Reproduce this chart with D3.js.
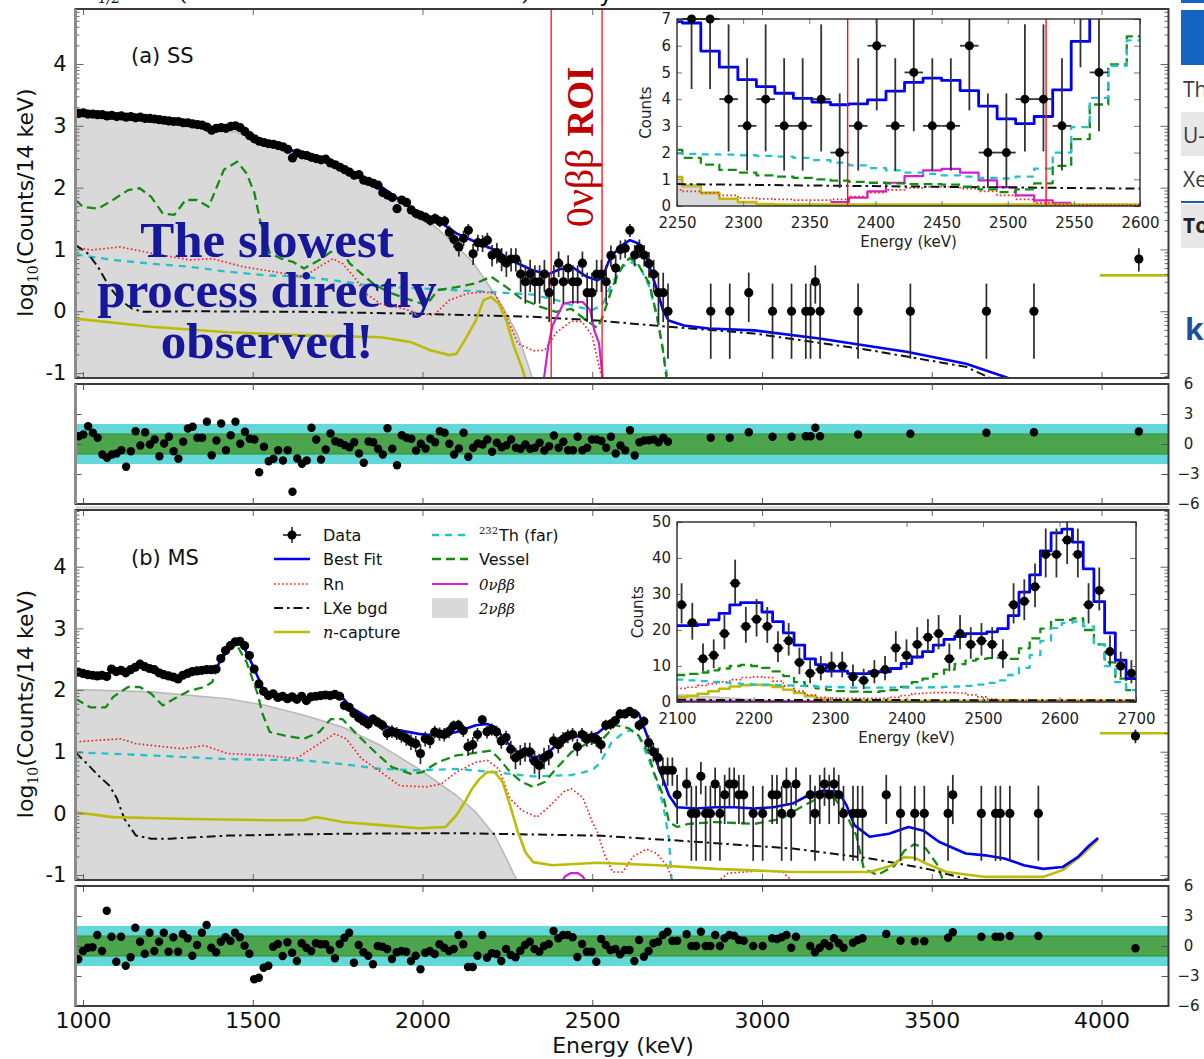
<!DOCTYPE html>
<html lang="en">
<head>
<meta charset="utf-8">
<title>Single-site and multi-site energy spectra</title>
<script src="https://cdn.jsdelivr.net/npm/d3@7"></script>
<style>
  html, body { margin: 0; padding: 0; background: #fff; }
  svg { display: block; font-family: "DejaVu Sans", sans-serif; }
</style>
</head>
<body>
<svg id="fig" width="1204" height="1059"></svg>
<script>
// ---------------------------------------------------------------------------
// Binning: 14 keV bins, values given at bin centres
// ---------------------------------------------------------------------------
const BIN = 14;
const SS_START = 987;   // centre of first single-site bin (keV)
const MS_START = 986;   // centre of first multi-site bin (keV)

// ---- (a) single-site data -------------------------------------------------
// log10(counts / 14 keV), bins 987 .. 2247 keV
const ssLogLow = [
  3.20,3.21,3.19,3.19,3.18,3.18,3.16,3.17,3.15,3.16,
  3.14,3.15,3.13,3.14,3.12,3.12,3.11,3.10,3.09,3.08,
  3.07,3.07,3.05,3.05,3.03,3.02,3.01,2.98,2.93,2.96,
  2.97,2.96,2.99,3.00,2.97,2.91,2.84,2.79,2.75,2.73,
  2.71,2.70,2.68,2.66,2.62,2.48,2.56,2.53,2.52,2.49,
  2.47,2.45,2.46,2.40,2.37,2.33,2.29,2.25,2.20,2.21,
  2.12,2.10,2.07,2.04,1.92,1.88,1.84,1.66,1.80,1.76,
  1.64,1.58,1.55,1.52,1.47,1.50,1.45,1.46,1.28,1.16,
  1.04,1.18,1.31,0.93,1.11,1.10,1.15,0.91,0.95,0.85,0.78
];
// counts per bin, bins 2261 .. 2569 keV (also shown in the zoomed inset)
const ssInsetCounts = [7,7,4,3,4,3,3,4,2,3,6,3,5,3,3,6,2,2,4,4,3,8,5];
// log10(counts), bins 2583 .. 2723 keV
const ssLogHigh = [1.00,1.02,1.31,0.91,1.02,0.91,0.77,0.60,0.30,0.30,0.00];
// normalised residuals for the bins above (987 .. 2723 keV)
const ssResid = [
  0.78,0.95,1.78,1.12,0.62,-1.05,-1.38,-1.05,-0.95,-0.62,
  -2.28,-0.72,1.28,-0.15,1.18,-0.05,0.45,-1.22,0.05,0.72,
  -0.72,-1.48,0.22,1.55,1.72,0.62,0.62,2.22,-1.12,0.35,
  2.05,-0.62,0.88,2.22,0.02,1.22,0.52,0.45,-2.82,-0.28,
  -1.72,-1.48,-0.62,-1.65,-0.62,-4.78,-1.45,-1.98,-1.65,1.62,
  0.45,-1.55,-0.55,1.05,0.28,0.12,-0.12,-0.32,0.18,-0.95,
  -1.88,0.25,0.18,-0.48,-1.05,1.58,-0.48,-2.12,0.88,0.62,
  0.52,-0.65,0.02,-0.45,0.52,0.18,1.28,1.12,0.02,-1.05,
  -0.45,1.12,-1.28,-0.38,0.05,-0.05,0.45,-0.78,0.12,-0.32,
  -0.12,0.45,-0.38,-0.48,-0.05,-0.48,-0.38,0.12,-0.65,-0.22,
  0.85,-0.38,0.22,-0.62,-0.62,0.72,-0.62,-0.38,0.45,0.45,0.30,
  -0.38,0.72,-0.95,-0.15,-0.62,1.38,-1.15,0.18,0.35,0.38,0.45,0.18,0.62,0.22
];
// sparse high-energy bins
const ssTailE = [2849,2905,2961,3031,3087,3129,3143,3157,3171,3283,3437,3661,3801];
const ssTailN = [1,1,2,1,1,1,1,3,1,1,1,1,1];
const ssTailResid = [0.62,0.62,1.18,0.72,0.72,0.78,0.78,1.62,0.78,0.95,1.02,1.12,1.18];
// overflow bin (everything above the plotted range)
const ssOverE = 4110, ssOverN = 7, ssOverResid = 1.25, ssOverModel = 0.58;

// ---- (a) single-site model components, [energy keV, log10 counts] ---------
const ssTwoNu = [[978,3.16],[1100,3.12],[1200,3.08],[1300,3.01],[1386,2.93],[1450,2.90],[1500,2.78],[1600,2.60],[1700,2.43],[1800,2.22],[1900,1.93],[2000,1.55],[2100,1.06],[2150,0.78],[2200,0.38],[2240,0.04],[2280,-0.38],[2310,-0.85],[2330,-1.2]];
const ssFit = [[978,3.19],[1100,3.15],[1200,3.11],[1300,3.04],[1380,2.96],[1430,2.97],[1460,2.99],[1490,2.86],[1520,2.76],[1600,2.63],[1700,2.46],[1800,2.22],[1877,2.02],[1989,1.58],[2050,1.45],[2100,1.26],[2157,1.12],[2213,0.99],[2270,0.80],[2326,0.66],[2371,0.60],[2404,0.68],[2440,0.72],[2483,0.56],[2515,0.50],[2530,0.55],[2554,0.88],[2588,1.07],[2611,1.15],[2634,1.10],[2662,0.83],[2691,0.34],[2708,0.02],[2725,-0.15],[2770,-0.23],[2843,-0.28],[2977,-0.31],[3169,-0.44],[3430,-0.66],[3601,-0.85],[3725,-1.08]];
const ssVessel = [[978,1.80],[1000,1.69],[1044,1.66],[1088,1.80],[1133,1.96],[1167,1.99],[1201,1.85],[1235,1.58],[1269,1.56],[1302,1.80],[1336,1.80],[1370,1.69],[1415,2.29],[1454,2.42],[1482,2.23],[1505,1.91],[1521,1.48],[1550,0.94],[1584,0.85],[1618,0.80],[1651,0.69],[1696,0.83],[1730,0.96],[1764,0.96],[1786,0.77],[1820,0.61],[1854,0.45],[1899,0.31],[1966,0.18],[2011,0.10],[2045,0.34],[2100,0.39],[2157,0.45],[2202,0.56],[2247,0.39],[2292,0.20],[2348,0.07],[2393,-0.01],[2438,0.04],[2483,-0.15],[2515,-0.27],[2530,-0.10],[2545,0.15],[2560,0.40],[2575,0.58],[2590,0.74],[2610,0.86],[2634,0.77],[2668,0.45],[2691,-0.09],[2708,-0.63],[2719,-1.1]];
const ssTh = [[978,0.92],[1088,0.83],[1201,0.77],[1313,0.72],[1426,0.64],[1539,0.58],[1651,0.56],[1764,0.48],[1877,0.39],[1989,0.37],[2100,0.34],[2213,0.31],[2326,0.27],[2400,0.17],[2450,0.08],[2500,0.02],[2530,0.10],[2545,0.30],[2560,0.47],[2575,0.60],[2590,0.72],[2612,0.80],[2640,0.72],[2668,0.40],[2691,-0.10],[2708,-0.60],[2722,-1.1]];
const ssRn = [[978,1.04],[1023,0.99],[1110,1.04],[1201,0.94],[1313,0.83],[1381,0.85],[1471,0.72],[1561,0.64],[1651,0.56],[1696,0.72],[1736,0.85],[1764,0.77],[1798,0.56],[1832,0.29],[1877,0.12],[1944,0.04],[1989,-0.04],[2034,-0.06],[2079,0.18],[2135,0.29],[2180,0.31],[2213,0.29],[2247,-0.09],[2281,-0.52],[2326,-0.64],[2360,-0.63],[2393,-0.35],[2438,-0.16],[2470,-0.17],[2500,-0.40],[2520,-0.90],[2535,-1.2]];
const ssLXe = [[978,1.07],[1013,0.94],[1044,0.72],[1078,0.39],[1110,0.18],[1145,0.04],[1178,-0.01],[1313,0.00],[1651,-0.01],[1989,-0.04],[2326,-0.09],[2515,-0.15],[2722,-0.25],[2977,-0.36],[3318,-0.63],[3601,-0.90],[3680,-1.1]];
const ssNcap = [[978,-0.12],[1201,-0.25],[1426,-0.34],[1651,-0.39],[1877,-0.42],[1966,-0.50],[2023,-0.63],[2079,-0.71],[2100,-0.69],[2124,-0.47],[2157,-0.15],[2180,0.18],[2202,0.23],[2225,0.12],[2247,-0.15],[2270,-0.58],[2292,-0.90],[2309,-1.2]];
const ssZeroNu = [[2355,-1.2],[2370,-0.58],[2383,-0.23],[2415,0.12],[2438,0.15],[2472,0.15],[2494,0.02],[2506,-0.31],[2520,-0.52],[2531,-1.1]];

// ---- (b) multi-site data --------------------------------------------------
// log10(counts / 14 keV), bins 986 .. 2092 keV
const msLogLow = [
  2.29,2.27,2.25,2.24,2.23,2.24,2.22,2.34,2.30,2.32,
  2.28,2.33,2.37,2.42,2.38,2.35,2.33,2.28,2.25,2.23,
  2.21,2.18,2.24,2.27,2.30,2.31,2.32,2.33,2.33,2.34,
  2.51,2.64,2.72,2.78,2.79,2.72,2.56,2.34,2.10,1.98,
  1.91,1.94,1.88,1.90,1.86,1.89,1.85,1.90,1.83,1.89,
  1.90,1.91,1.92,1.91,1.93,1.90,1.75,1.72,1.62,1.55,
  1.50,1.45,1.53,1.48,1.43,1.30,1.33,1.30,1.26,1.22,
  1.16,1.13,0.97,1.21,1.18,1.32,1.29,1.28,1.33,1.42
];
// counts per bin, bins 2106 .. 2694 keV (also shown in the zoomed inset)
const msInsetCounts = [27,22,12,13,19,33,21,23,21,15,17,11,8,9,10,10,7,6,8,9,15,13,16,18,19,12,19,16,17,16,13,27,28,32,41,41,45,41,27,31,14,10,8];
// counts, bins 2708 .. 2736 keV
const msLateCounts = [5,5,5];
const msResid = [
  -1.33,-0.5,-0.17,-0.13,1.1,-0.5,3.53,0.93,-1.57,0.93,
  -1.97,-1.13,1.83,0.43,-0.77,1.33,-0.5,0.43,1.33,-0.57,
  0.87,-0.57,1.2,0.77,-0.97,0.1,1.33,2.1,-0.17,-0.63,
  0.43,0.87,0.5,1.33,0.87,0.03,-0.77,-3.33,-3.17,-2.17,
  -1.97,-0.07,0.2,-1.0,0.37,-0.67,-1.5,0.27,-0.17,-0.5,
  0.27,0.17,0.17,-0.4,-1.23,0.2,0.83,1.33,-1.67,0.1,
  -0.63,-0.97,-1.83,0.0,-0.07,-0.3,-1.3,-0.63,-0.5,-0.57,
  -1.5,-0.97,-2.33,-0.67,-0.5,-0.8,0.17,-0.17,-0.5,-0.3,
  1.1,0.17,-2.1,-2.1,-0.97,1.1,-1.17,-0.73,-0.8,-1.5,
  -0.3,-0.9,-1.13,-0.47,0.1,0.43,-0.3,-0.57,0.0,0.2,
  1.5,0.77,1.1,1.1,0.87,-1.1,0.2,-0.57,-0.57,-1.57,
  0.7,0.1,-0.4,-0.3,-0.83,-0.4,-0.4,-1.5,0.6,-1.07,-0.5,0.27,0.43,1.1,1.43,0.5
];
const msTailE = [2750,2778,2792,2806,2820,2834,2848,2862,2876,2890,2904,2918,2932,2946,2974,3002,3030,3044,3058,3072,3086,3100,3142,3156,3170,3184,3198,3212,3226,3240,3268,3282,3296,3366,3408,3450,3478,3548,3562,3646,3688,3702,3730,3814];
const msTailN = [2,3,1,1,4,1,1,3,1,2,3,3,2,2,1,1,2,2,1,3,1,3,2,1,2,3,2,3,2,1,1,1,1,2,1,1,1,1,2,1,1,1,1,1];
const msTailResid = [0.53,1.17,0.0,0.0,1.43,0.0,0.0,1.1,0.0,0.77,1.1,1.03,0.6,0.53,0.0,0.0,0.77,0.7,0.87,1.1,-0.17,0.93,0.0,-0.63,-0.17,0.27,0.0,0.77,0.27,-0.17,0.33,0.6,0.77,1.2,0.53,0.47,0.47,0.83,1.37,0.93,0.93,0.93,1.0,1.0];
const msOverE = 4100, msOverN = 18, msOverResid = -0.23, msOverModel = 1.30;

// ---- (b) multi-site model components --------------------------------------
const msTwoNu = [[978,2.01],[1201,1.97],[1426,1.86],[1539,1.75],[1651,1.59],[1764,1.40],[1877,1.10],[1989,0.72],[2100,0.29],[2157,0.02],[2213,-0.36],[2247,-0.73],[2270,-1.0],[2290,-1.2]];
const msFit = [[978,2.28],[1050,2.24],[1100,2.31],[1168,2.39],[1250,2.24],[1290,2.21],[1330,2.29],[1390,2.34],[1420,2.60],[1450,2.77],[1470,2.74],[1500,2.40],[1530,2.02],[1560,1.92],[1650,1.88],[1720,1.91],[1760,1.90],[1790,1.72],[1840,1.55],[1880,1.45],[1910,1.37],[1989,1.29],[2045,1.26],[2100,1.32],[2157,1.43],[2191,1.45],[2213,1.40],[2247,1.16],[2281,0.99],[2326,0.91],[2360,0.94],[2393,1.10],[2438,1.24],[2483,1.26],[2515,1.30],[2557,1.48],[2591,1.64],[2614,1.69],[2637,1.62],[2665,1.21],[2681,0.97],[2704,0.62],[2726,0.29],[2750,0.10],[2806,0.08],[2863,0.10],[2920,0.10],[2977,0.08],[3033,0.10],[3090,0.16],[3135,0.29],[3181,0.37],[3226,0.35],[3249,0.13],[3272,-0.19],[3317,-0.38],[3374,-0.33],[3431,-0.22],[3476,-0.28],[3521,-0.46],[3600,-0.65],[3657,-0.68],[3714,-0.73],[3771,-0.84],[3828,-0.90],[3885,-0.87],[3930,-0.71],[3964,-0.52],[3990,-0.40]];
const msVessel = [[978,1.86],[1021,1.72],[1067,1.72],[1089,1.89],[1133,2.05],[1167,2.05],[1201,1.94],[1235,1.75],[1269,1.86],[1313,1.99],[1358,2.05],[1381,2.13],[1404,2.53],[1437,2.72],[1454,2.72],[1482,2.45],[1516,1.91],[1527,1.64],[1550,1.32],[1595,1.26],[1651,1.21],[1696,1.32],[1730,1.53],[1764,1.53],[1786,1.40],[1820,1.21],[1865,0.97],[1910,0.75],[1966,0.64],[2000,0.67],[2045,0.83],[2100,0.94],[2168,0.99],[2202,1.02],[2225,0.89],[2258,0.67],[2292,0.51],[2326,0.43],[2360,0.51],[2393,0.72],[2438,0.99],[2483,1.13],[2523,1.16],[2568,1.43],[2608,1.38],[2637,1.26],[2665,0.99],[2681,0.67],[2709,0.29],[2726,-0.14],[2750,-0.22],[2783,-0.17],[2863,-0.14],[2977,-0.17],[3056,-0.09],[3124,0.13],[3181,0.29],[3215,0.24],[3249,-0.03],[3278,-0.36],[3300,-0.90],[3340,-1.0],[3390,-0.85],[3420,-0.60],[3449,-0.50],[3483,-0.57],[3517,-0.84],[3540,-1.2]];
const msTh = [[978,0.99],[1201,0.94],[1426,0.88],[1651,0.86],[1764,0.80],[1877,0.72],[1989,0.70],[2100,0.72],[2213,0.67],[2326,0.60],[2438,0.62],[2500,0.70],[2523,0.82],[2557,1.15],[2590,1.30],[2612,1.35],[2637,1.25],[2665,0.90],[2691,0.51],[2709,0.13],[2726,-0.41],[2735,-1.2]];
const msRn = [[978,1.16],[1110,1.21],[1156,1.13],[1291,1.05],[1358,1.10],[1426,0.97],[1539,0.94],[1628,0.89],[1673,1.05],[1741,1.29],[1775,1.21],[1820,0.89],[1877,0.67],[1933,0.45],[2011,0.43],[2056,0.48],[2100,0.67],[2157,0.83],[2191,0.86],[2225,0.72],[2258,0.24],[2292,0.05],[2337,-0.06],[2371,0.10],[2416,0.35],[2438,0.40],[2472,0.26],[2500,-0.14],[2515,-0.30],[2535,-0.65],[2560,-0.95],[2590,-0.95],[2620,-0.70],[2660,-0.58],[2690,-0.65],[2720,-0.85],[2740,-1.15]];
const msRnHigh = [[2860,-1.15],[2900,-0.97],[3000,-0.93],[3060,-0.95],[3100,-1.15]];
const msLXe = [[978,0.99],[1013,0.80],[1044,0.62],[1078,0.45],[1100,0.24],[1122,-0.09],[1156,-0.36],[1201,-0.41],[1257,-0.41],[1426,-0.36],[1764,-0.33],[2100,-0.32],[2515,-0.36],[2750,-0.44],[3090,-0.57],[3317,-0.73],[3487,-0.90],[3600,-1.06],[3650,-1.15]];
const msNcap = [[978,0.02],[1088,-0.06],[1313,-0.09],[1539,-0.11],[1651,-0.11],[1685,-0.06],[1719,-0.09],[1764,-0.14],[1877,-0.19],[1989,-0.24],[2068,-0.22],[2100,-0.03],[2124,0.18],[2146,0.40],[2168,0.56],[2191,0.67],[2213,0.67],[2236,0.51],[2258,0.13],[2281,-0.30],[2303,-0.63],[2326,-0.79],[2382,-0.84],[2515,-0.80],[2692,-0.84],[2863,-0.90],[3090,-0.95],[3317,-0.95],[3380,-0.85],[3419,-0.71],[3450,-0.72],[3487,-0.82],[3544,-0.95],[3658,-1.03],[3828,-1.03],[3885,-0.92],[3942,-0.68],[3990,-0.42]];
const msZeroNu = [[2400,-1.2],[2420,-1.02],[2436,-0.97],[2458,-0.97],[2472,-1.02],[2490,-1.2]];

// ---- 0νββ region of interest (keV) ----------------------------------------
const roiE = [2379, 2529];

// ---- inset (a): counts per 14 keV bin, bins with left edges from 2240 keV ---
const ssInEdge = 2240;
const ssInFit    = [6.9,6.85,5.8,5.2,4.73,4.47,4.22,4.03,3.89,3.79,3.82,3.97,4.3,4.63,4.79,4.7,4.32,3.74,3.26,3.08,3.35,4.35,6.16,8,9,10];
const ssInTh     = [1.97,1.95,1.93,1.92,1.9,1.88,1.85,1.8,1.72,1.62,1.52,1.42,1.33,1.25,1.2,1.15,1.1,1.05,1.03,1.1,1.4,2.0,2.95,4.05,5.25,6.2];
const ssInVessel = [2.1,1.8,1.55,1.35,1.25,1.15,1.1,1.05,1.0,0.95,0.9,0.87,0.85,0.82,0.82,0.8,0.72,0.62,0.52,0.62,0.85,1.5,2.5,3.8,5.3,6.35];
const ssInRn     = [0.6,0.55,0.5,0.4,0.3,0.27,0.25,0.22,0.22,0.25,0.35,0.5,0.6,0.68,0.72,0.72,0.65,0.55,0.4,0.25,0.12,0.06,0.04,0.03,0.03,0.03];
const ssInNcap   = [1.08,0.77,0.49,0.27,0.15,0.07,0.05,0.05,0.05,0.05,0.05,0.05,0.05,0.05,0.05,0.05,0.05,0.05,0.05,0.05,0.05,0.05,0.05,0.05,0.05,0.05];
const ssInTwoNu  = [0.9,0.7,0.45,0.25,0.12,0.06,0.03,0.02,0.01,0,0,0,0,0,0,0,0,0,0,0,0,0,0,0,0,0];
const ssInZeroEdge = 2366;
const ssInZeroNu = [0.15,0.31,0.55,0.87,1.12,1.33,1.39,1.25,0.96,0.71,0.4,0.21,0.12];
const ssInLXe = [[2250,0.82],[2425,0.73],[2600,0.65]];
const ssInCentre = 2261;

// ---- inset (b): counts per 14 keV bin, bins with left edges from 2099 keV ---
const msInEdge = 2099;
const msInFit    = [21.2,21.2,21.5,22.8,24.6,27,27.6,27.6,25,22.3,19.2,15.8,12,10.4,8.6,8.6,7.9,7.9,8.4,8.4,9.3,10.7,12.5,14,15.8,17.4,18.2,19,19,19.5,20.4,24,30.5,35.3,42,47,48,44.4,37,27.9,19.2,11.6,6.5];
const msInVessel = [7.5,7.8,8.2,8.8,9.3,10,10.3,10,9.5,8.5,7.2,5.5,4.5,3.8,3.3,3,2.9,2.8,2.8,3,3.3,4.2,5.5,6.5,7.8,9,10.5,11.5,12,12.2,12.3,12,14.9,17.7,20.4,22.8,22.8,23.2,20,16,11,6.5,3.3];
const msInTh     = [6.2,6.0,5.8,5.6,5.4,5.2,5.0,4.9,4.8,4.7,4.6,4.5,4.4,4.3,4.2,4.1,4.0,4.0,4.0,4.0,4.0,4.0,4.0,4.1,4.1,4.2,4.3,4.5,4.8,5.3,6.0,7.5,9.5,13,17,20.5,22,22.3,21,16,10,5.5,3.3];
const msInRn     = [3.8,4.1,4.6,5.1,5.6,6.2,6.8,7.0,6.8,5.8,4.5,3.0,2.0,1.3,1.1,1.0,1.0,1.0,1.0,1.0,1.3,1.8,2.3,2.5,2.6,2.6,2.5,2.0,1.4,0.8,0.5,0.4,0.4,0.4,0.4,0.4,0.4,0.4,0.4,0.4,0.4,0.4,0.4];
const msInNcap   = [1.4,1.7,2.3,3.0,3.7,4.3,4.7,4.8,4.7,4.2,3.4,2.5,1.6,0.9,0.5,0.35,0.35,0.35,0.35,0.35,0.35,0.35,0.35,0.35,0.35,0.35,0.35,0.35,0.35,0.35,0.35,0.35,0.35,0.35,0.35,0.35,0.35,0.35,0.35,0.35,0.35,0.35,0.35];
const msInTwoNu  = [2.0,1.8,1.6,1.4,1.2,1.0,0.8,0.6,0.5,0.4,0.3,0.2,0.15,0.1,0.1,0.1,0.1,0.1,0.1,0.1,0.1,0.1,0.1,0.1,0.1,0.1,0.1,0.1,0.1,0.1,0.1,0.1,0.1,0.1,0.1,0.1,0.1,0.1,0.1,0.1,0.1,0.1,0.1];
const msInZeroNu = [[2100,0.2],[2700,0.2]];
const msInLXe = [[2100,0.6],[2700,0.45]];
const msInCentre = 2106;

// ---- axis ticks -----------------------------------------------------------
const energyTicks = [1000,1500,2000,2500,3000,3500,4000];
const logTicks = [-1,0,1,2,3,4];
const residTicks = [-6,-3,0,3,6];
const ssInXTicks = [2250,2300,2350,2400,2450,2500,2550,2600];
const ssInYTicks = [0,1,2,3,4,5,6,7];
const msInXTicks = [2100,2200,2300,2400,2500,2600,2700];
const msInYTicks = [0,10,20,30,40,50];

// ---------------------------------------------------------------------------
// Styles
// ---------------------------------------------------------------------------
const STYLE = {
  fit:    { stroke: "#0000f2", w: 2.6 },
  rn:     { stroke: "#ff2020", w: 1.7, dash: "1.6,2.4" },
  lxe:    { stroke: "#111111", w: 2.0, dash: "9,4,2.5,4" },
  ncap:   { stroke: "#bcbc08", w: 2.6 },
  th:     { stroke: "#22c3c8", w: 2.3, dash: "7,6" },
  vessel: { stroke: "#148c14", w: 2.3, dash: "9,5" },
  zero:   { stroke: "#d21fd2", w: 2.2 },
  two:    { fill: "#d9d9d9", stroke: "#b9b9b9", w: 1.6 }
};

// ---------------------------------------------------------------------------
// Layout and scales
// ---------------------------------------------------------------------------
const svg = d3.select("#fig");
const defs = svg.append("defs");
const X0 = 75.5, X1 = 1168.5;
const x = d3.scaleLinear().domain([977.9, 4197.3]).range([X0, X1]);

const PANEL_SS = { id: "ss", top: 9, bottom: 378, rTop: 384, rBottom: 504,
  y: d3.scaleLinear().domain([-1.08, 4.89]).range([378, 9]) };
const PANEL_MS = { id: "ms", top: 510, bottom: 880, rTop: 886, rBottom: 1006,
  y: d3.scaleLinear().domain([-1.08, 4.92]).range([880, 510]) };

function clip(id, x0, y0, w, h) {
  defs.append("clipPath").attr("id", id).append("rect")
    .attr("x", x0).attr("y", y0).attr("width", w).attr("height", h);
  return `url(#${id})`;
}
function stroked(sel, s) {
  sel.attr("fill", "none").attr("stroke", s.stroke).attr("stroke-width", s.w)
     .attr("stroke-dasharray", s.dash || null).attr("stroke-linejoin", "round");
}
// approximate 68% Poisson interval for n observed counts
function poisson(n) {
  return [Math.max(n - Math.sqrt(n) + 0.17 / n, 0.02), n + Math.sqrt(n) + 0.8];
}
function logDense(lo, counts, hi) {
  return lo.concat(counts.map(n => Math.log10(n)), hi);
}

// ---------------------------------------------------------------------------
// Main spectrum panel
// ---------------------------------------------------------------------------
function drawMain(P, model, points, overModel, withROI) {
  const y = P.y;
  const g = svg.append("g").attr("clip-path", clip("clip-" + P.id, X0, P.top, X1 - X0, P.bottom - P.top));
  const ln = d3.line().x(d => x(d[0])).y(d => y(d[1]));

  g.append("path").datum(model.two).attr("fill", STYLE.two.fill)
    .attr("d", d3.area().x(d => x(d[0])).y0(P.bottom + 5).y1(d => y(d[1])));
  g.append("path").datum(model.two).call(stroked, STYLE.two).attr("d", ln);

  model.lines.forEach(([key, pts]) => {
    g.append("path").datum(pts).call(stroked, STYLE[key]).attr("d", ln);
  });
  // overflow bin of the n-capture component
  g.append("path").datum([[3995, overModel], [4200, overModel]]).call(stroked, STYLE.ncap).attr("d", ln);

  if (withROI) {
    g.selectAll("line.roi").data(roiE).join("line").attr("class", "roi")
      .attr("x1", d => x(d)).attr("x2", d => x(d))
      .attr("y1", P.top).attr("y2", P.bottom)
      .attr("stroke", "#ff1010").attr("stroke-width", 1.3);
  }

  g.selectAll("line.err").data(points).join("line").attr("class", "err")
    .attr("x1", d => x(d.E)).attr("x2", d => x(d.E))
    .attr("y1", d => y(Math.log10(poisson(d.n)[0])))
    .attr("y2", d => y(Math.log10(poisson(d.n)[1])))
    .attr("stroke", "#2a2a2a").attr("stroke-width", 1.7);
  g.selectAll("circle.pt").data(points).join("circle").attr("class", "pt")
    .attr("cx", d => x(d.E)).attr("cy", d => y(Math.log10(d.n))).attr("r", 4.6)
    .attr("fill", "#000");

  // ticks
  const tickStyle = s => { s.select(".domain").remove(); s.selectAll("line").attr("stroke", "#666"); };
  svg.append("g").attr("transform", `translate(0,${P.top})`)
    .call(d3.axisTop(x).tickValues(energyTicks).tickSize(-6).tickFormat("")).call(tickStyle);
  svg.append("g").attr("transform", `translate(0,${P.bottom})`)
    .call(d3.axisBottom(x).tickValues(energyTicks).tickSize(-6).tickFormat("")).call(tickStyle);

  const minor = [];
  for (let n = -2; n <= 5; n++) for (let k = 2; k <= 9; k++) {
    const t = n + Math.log10(k);
    if (t > y.domain()[0] && t < y.domain()[1]) minor.push(t);
  }
  svg.append("g").attr("transform", `translate(${X0},0)`)
    .call(d3.axisLeft(y).tickValues(minor).tickSize(-4).tickFormat("")).call(tickStyle);
  svg.append("g").attr("transform", `translate(${X1},0)`)
    .call(d3.axisRight(y).tickValues(minor).tickSize(-4).tickFormat("")).call(tickStyle);
  svg.append("g").attr("transform", `translate(${X1},0)`)
    .call(d3.axisRight(y).tickValues(logTicks).tickSize(-8).tickFormat("")).call(tickStyle);
  const left = svg.append("g").attr("transform", `translate(${X0},0)`)
    .call(d3.axisLeft(y).tickValues(logTicks).tickSize(-8).tickPadding(9).tickFormat(d => String(d)));
  left.call(tickStyle);
  left.selectAll("text").attr("font-size", 21).attr("fill", "#111")
    .attr("font-family", "DejaVu Sans");

  frame(P.top, P.bottom);

  // y title
  const t = svg.append("text")
    .attr("transform", `translate(33,${(P.top + P.bottom) / 2 + 9}) rotate(-90)`)
    .attr("text-anchor", "middle").attr("font-size", 22).attr("fill", "#111");
  t.append("tspan").text("log");
  t.append("tspan").attr("font-size", 14).attr("font-family", "DejaVu Serif").attr("dy", 5).text("10");
  t.append("tspan").attr("dy", -5).text("(Counts/14 keV)");
}

function frame(top, bottom) {
  svg.append("rect").attr("x", X0).attr("y", top).attr("width", X1 - X0).attr("height", bottom - top)
    .attr("fill", "none").attr("stroke", "#3c3c3c").attr("stroke-width", 2);
  svg.append("line").attr("x1", X0).attr("x2", X0).attr("y1", top).attr("y2", bottom)
    .attr("stroke", "#8c8c8c").attr("stroke-width", 3);
}

// ---------------------------------------------------------------------------
// Residual panel
// ---------------------------------------------------------------------------
function drawResid(P, points, withLabels) {
  const r = d3.scaleLinear().domain([-6, 6]).range([P.rBottom, P.rTop]);
  const g = svg.append("g").attr("clip-path", clip("clipr-" + P.id, X0, P.rTop, X1 - X0, P.rBottom - P.rTop));
  g.append("rect").attr("x", X0).attr("width", X1 - X0).attr("y", r(2)).attr("height", r(-2) - r(2)).attr("fill", "#62d8d8");
  g.append("rect").attr("x", X0).attr("width", X1 - X0).attr("y", r(1)).attr("height", r(-1) - r(1)).attr("fill", "#4ca44c");
  g.selectAll("line.b").data([1, -1]).join("line").attr("class", "b")
    .attr("x1", X0).attr("x2", X1).attr("y1", d => r(d)).attr("y2", d => r(d))
    .attr("stroke", "#2f8f2f").attr("stroke-width", 1);
  g.selectAll("circle").data(points).join("circle")
    .attr("cx", d => x(d.E)).attr("cy", d => r(d.r)).attr("r", 4.2).attr("fill", "#000");

  const tickStyle = s => { s.select(".domain").remove(); s.selectAll("line").attr("stroke", "#555"); };
  svg.append("g").attr("transform", `translate(0,${P.rTop})`)
    .call(d3.axisTop(x).tickValues(energyTicks).tickSize(-6).tickFormat("")).call(tickStyle);
  const bottomAxis = d3.axisBottom(x).tickValues(energyTicks).tickSize(-6)
    .tickPadding(6).tickFormat(withLabels ? (d => String(d)) : "");
  const bx = svg.append("g").attr("transform", `translate(0,${P.rBottom})`).call(bottomAxis);
  bx.call(tickStyle);
  bx.selectAll("text").attr("font-size", 22).attr("fill", "#111").attr("font-family", "DejaVu Sans");

  svg.append("g").attr("transform", `translate(${X0},0)`)
    .call(d3.axisLeft(r).tickValues(residTicks).tickSize(-6).tickFormat("")).call(tickStyle);
  const ry = svg.append("g").attr("transform", `translate(${X1},0)`)
    .call(d3.axisRight(r).tickValues(residTicks).tickSize(-7).tickPadding(13)
      .tickFormat(d => d < 0 ? "\u2212" + Math.abs(d) : String(d)));
  ry.call(tickStyle);
  ry.selectAll("text").attr("font-size", 15).attr("fill", "#222").attr("text-anchor", "middle")
    .attr("x", 20).attr("font-family", "DejaVu Sans");
  frame(P.rTop, P.rBottom);
}

// ---------------------------------------------------------------------------
// Zoomed inset
// ---------------------------------------------------------------------------
function drawInset(I) {
  const xi = d3.scaleLinear().domain(I.xDomain).range([I.left, I.right]);
  const yi = d3.scaleLinear().domain(I.yDomain).range([I.bottom, I.top]);
  svg.append("rect").attr("x", I.left).attr("y", I.top)
    .attr("width", I.right - I.left).attr("height", I.bottom - I.top).attr("fill", "#fff");

  const g = svg.append("g").attr("clip-path", clip("clipi-" + I.id, I.left, I.top, I.right - I.left, I.bottom - I.top));
  const ln = d3.line().x(d => xi(d[0])).y(d => yi(d[1]));
  const lnStep = d3.line().curve(d3.curveStepAfter).x(d => xi(d[0])).y(d => yi(d[1]));
  const steps = (start, vals) => vals.map((v, i) => [start + BIN * i, v])
    .concat([[start + BIN * vals.length, vals[vals.length - 1]]]);

  g.append("path").datum(steps(I.edge, I.two)).attr("fill", STYLE.two.fill)
    .attr("d", d3.area().curve(d3.curveStepAfter).x(d => xi(d[0])).y0(yi(0)).y1(d => yi(d[1])));
  g.append("path").datum(steps(I.edge, I.two)).call(stroked, { stroke: "#bdbdbd", w: 1.2 }).attr("d", lnStep);

  g.append("path").datum(I.zeroLine ? I.zeroLine : steps(I.zeroEdge, I.zero))
    .call(stroked, STYLE.zero).attr("d", I.zeroLine ? ln : lnStep);
  g.append("path").datum(steps(I.edge, I.ncap)).call(stroked, STYLE.ncap).attr("d", lnStep);
  g.append("path").datum(steps(I.edge, I.rn)).call(stroked, STYLE.rn).attr("d", lnStep);
  g.append("path").datum(I.lxe).call(stroked, STYLE.lxe).attr("d", ln);
  g.append("path").datum(steps(I.edge, I.vessel)).call(stroked, STYLE.vessel).attr("d", lnStep);
  g.append("path").datum(steps(I.edge, I.th)).call(stroked, STYLE.th).attr("d", lnStep);
  g.append("path").datum(steps(I.edge, I.fit)).call(stroked, { stroke: STYLE.fit.stroke, w: 2.8 }).attr("d", lnStep);

  if (I.roi) {
    g.selectAll("line.roi").data(roiE).join("line").attr("class", "roi")
      .attr("x1", d => xi(d)).attr("x2", d => xi(d)).attr("y1", I.top).attr("y2", I.bottom)
      .attr("stroke", "#ff1010").attr("stroke-width", 1.4);
  }

  // data points may sit on the upper edge
  const gp = svg.append("g").attr("clip-path", clip("clipp-" + I.id, I.left, I.top - 6, I.right - I.left, I.bottom - I.top + 6));
  const pts = I.counts.map((n, i) => ({ E: I.centre + BIN * i, n }));
  gp.selectAll("line.ey").data(pts).join("line").attr("class", "ey")
    .attr("x1", d => xi(d.E)).attr("x2", d => xi(d.E))
    .attr("y1", d => yi(poisson(d.n)[0])).attr("y2", d => Math.max(yi(poisson(d.n)[1]), I.top))
    .attr("stroke", "#333").attr("stroke-width", 1.8);
  gp.selectAll("line.ex").data(pts).join("line").attr("class", "ex")
    .attr("x1", d => xi(d.E - BIN / 2)).attr("x2", d => xi(d.E + BIN / 2))
    .attr("y1", d => yi(d.n)).attr("y2", d => yi(d.n))
    .attr("stroke", "#333").attr("stroke-width", 1.8);
  gp.selectAll("circle").data(pts).join("circle")
    .attr("cx", d => xi(d.E)).attr("cy", d => yi(d.n)).attr("r", 4.5).attr("fill", "#000");

  const tickStyle = s => { s.select(".domain").remove(); s.selectAll("line").attr("stroke", "#777"); };
  const lx = svg.append("g").attr("transform", `translate(0,${I.bottom})`)
    .call(d3.axisBottom(xi).tickValues(I.xTicks).tickSize(-5).tickPadding(11).tickFormat(d => String(d)));
  lx.call(tickStyle);
  lx.selectAll("text").attr("font-size", 15).attr("fill", "#222").attr("font-family", "DejaVu Sans");
  svg.append("g").attr("transform", `translate(0,${I.top})`)
    .call(d3.axisTop(xi).tickValues(I.xTicks).tickSize(-5).tickFormat("")).call(tickStyle);
  const ly = svg.append("g").attr("transform", `translate(${I.left},0)`)
    .call(d3.axisLeft(yi).tickValues(I.yTicks).tickSize(-5).tickPadding(6).tickFormat(d => String(d)));
  ly.call(tickStyle);
  ly.selectAll("text").attr("font-size", 15).attr("fill", "#222").attr("font-family", "DejaVu Sans");
  svg.append("g").attr("transform", `translate(${I.right},0)`)
    .call(d3.axisRight(yi).tickValues(I.yTicks).tickSize(-6).tickFormat("")).call(tickStyle);

  svg.append("rect").attr("x", I.left).attr("y", I.top).attr("width", I.right - I.left)
    .attr("height", I.bottom - I.top).attr("fill", "none").attr("stroke", "#1a1a1a").attr("stroke-width", 1.3);

  svg.append("text").attr("x", (I.left + I.right) / 2).attr("y", I.bottom + 41)
    .attr("text-anchor", "middle").attr("font-size", 15).attr("fill", "#222").text("Energy (keV)");
  svg.append("text").attr("transform", `translate(${I.countsX},${(I.top + I.bottom) / 2}) rotate(-90)`)
    .attr("text-anchor", "middle").attr("font-size", 15).attr("fill", "#222").text("Counts");
}

// ---------------------------------------------------------------------------
// Assemble data
// ---------------------------------------------------------------------------
const ssDenseLog = logDense(ssLogLow, ssInsetCounts, ssLogHigh);
const ssPoints = ssDenseLog.map((v, i) => ({ E: SS_START + BIN * i, n: Math.pow(10, v), r: ssResid[i] }))
  .concat(ssTailE.map((E, i) => ({ E, n: ssTailN[i], r: ssTailResid[i] })))
  .concat([{ E: ssOverE, n: ssOverN, r: ssOverResid }]);

const msDenseLog = logDense(msLogLow, msInsetCounts, msLateCounts.map(n => Math.log10(n)));
const msPoints = msDenseLog.map((v, i) => ({ E: MS_START + BIN * i, n: Math.pow(10, v), r: msResid[i] }))
  .concat(msTailE.map((E, i) => ({ E, n: msTailN[i], r: msTailResid[i] })))
  .concat([{ E: msOverE, n: msOverN, r: msOverResid }]);

// ---------------------------------------------------------------------------
// Slide title line above the figure (only its lower edge is on the page)
// ---------------------------------------------------------------------------
const head = svg.append("g").attr("fill", "#111").attr("font-family", "DejaVu Serif");
head.append("text").attr("x", 98).attr("y", 3).attr("font-size", 14).attr("font-style", "italic").text("1/2");
head.append("text").attr("x", 178).attr("y", 0).attr("font-size", 24).text("(");
head.append("text").attr("x", 521).attr("y", 0).attr("font-size", 24).text(")");
head.append("text").attr("x", 599).attr("y", 1).attr("font-size", 24).attr("font-family", "DejaVu Sans").text("y");

// ---------------------------------------------------------------------------
// Panels
// ---------------------------------------------------------------------------
drawMain(PANEL_SS, {
  two: ssTwoNu,
  lines: [["th", ssTh], ["vessel", ssVessel], ["rn", ssRn], ["lxe", ssLXe], ["ncap", ssNcap], ["zero", ssZeroNu], ["fit", ssFit]]
}, ssPoints, ssOverModel, true);
drawResid(PANEL_SS, ssPoints, false);

// light separator between the two figure halves
svg.append("line").attr("x1", X0).attr("x2", X1).attr("y1", 507.5).attr("y2", 507.5)
  .attr("stroke", "#cfcfcf").attr("stroke-width", 2);

drawMain(PANEL_MS, {
  two: msTwoNu,
  lines: [["th", msTh], ["vessel", msVessel], ["rn", msRn], ["rn", msRnHigh], ["lxe", msLXe], ["ncap", msNcap], ["zero", msZeroNu], ["fit", msFit]]
}, msPoints, msOverModel, false);
drawResid(PANEL_MS, msPoints, true);

svg.append("text").attr("x", 623).attr("y", 1053).attr("text-anchor", "middle")
  .attr("font-size", 22).attr("fill", "#111").text("Energy (keV)");

// panel tags
svg.append("text").attr("x", 131).attr("y", 63).attr("font-size", 21).attr("fill", "#111").text("(a) SS");
svg.append("text").attr("x", 131).attr("y", 565).attr("font-size", 21).attr("fill", "#111").text("(b) MS");

// ROI label
const roiText = svg.append("text").attr("transform", "translate(593,147) rotate(-90)")
  .attr("text-anchor", "middle").attr("fill", "#c00000").attr("font-family", "Liberation Serif");
roiText.append("tspan").attr("font-size", 40).text("0\u03bd\u03b2\u03b2");
roiText.append("tspan").attr("dx", 12).attr("font-size", 37).attr("font-weight", "bold").text("ROI");

// insets
drawInset({
  id: "ss", left: 677, right: 1140, top: 19, bottom: 206, countsX: 651,
  xDomain: [2250, 2600], yDomain: [0, 7], xTicks: ssInXTicks, yTicks: ssInYTicks,
  edge: ssInEdge, fit: ssInFit, th: ssInTh, vessel: ssInVessel, rn: ssInRn, ncap: ssInNcap,
  two: ssInTwoNu, zeroEdge: ssInZeroEdge, zero: ssInZeroNu, lxe: ssInLXe,
  counts: ssInsetCounts, centre: ssInCentre, roi: true
});
drawInset({
  id: "ms", left: 677, right: 1136, top: 522, bottom: 702, countsX: 643,
  xDomain: [2100, 2700], yDomain: [0, 50], xTicks: msInXTicks, yTicks: msInYTicks,
  edge: msInEdge, fit: msInFit, th: msInTh, vessel: msInVessel, rn: msInRn, ncap: msInNcap,
  two: msInTwoNu, zeroLine: msInZeroNu, lxe: msInLXe,
  counts: msInsetCounts, centre: msInCentre, roi: false
});

// ---------------------------------------------------------------------------
// Legend (panel b)
// ---------------------------------------------------------------------------
const legendLeft = [
  { key: "data", label: "Data" },
  { key: "fit", label: "Best Fit" },
  { key: "rn", label: "Rn" },
  { key: "lxe", label: "LXe bgd" },
  { key: "ncap", label: "n-capture" }
];
const legendRight = [
  { key: "th", label: "Th (far)" },
  { key: "vessel", label: "Vessel" },
  { key: "zero", label: "0\u03bd\u03b2\u03b2" },
  { key: "two", label: "2\u03bd\u03b2\u03b2" }
];
const legendRows = [535, 559, 584, 608, 632];
const lg = svg.append("g");
function legendItem(item, row, sx, tx) {
  const yy = legendRows[row];
  if (item.key === "data") {
    lg.append("line").attr("x1", sx + 9).attr("x2", sx + 27).attr("y1", yy).attr("y2", yy).attr("stroke", "#222").attr("stroke-width", 1.6);
    lg.append("line").attr("x1", sx + 18).attr("x2", sx + 18).attr("y1", yy - 8).attr("y2", yy + 8).attr("stroke", "#222").attr("stroke-width", 1.6);
    lg.append("circle").attr("cx", sx + 18).attr("cy", yy).attr("r", 4.5).attr("fill", "#000");
  } else if (item.key === "two") {
    lg.append("rect").attr("x", sx).attr("y", yy - 10).attr("width", 36).attr("height", 20).attr("fill", STYLE.two.fill);
  } else {
    lg.append("line").attr("x1", sx).attr("x2", sx + 36).attr("y1", yy).attr("y2", yy).call(stroked, STYLE[item.key]);
  }
  const t = lg.append("text").attr("x", tx).attr("y", yy + 6).attr("font-size", 16).attr("fill", "#111");
  if (item.key === "ncap") {
    t.append("tspan").attr("font-family", "DejaVu Serif").attr("font-style", "italic").text("n");
    t.append("tspan").text("-capture");
  } else if (item.key === "th") {
    t.append("tspan").attr("font-size", 10).attr("font-family", "DejaVu Serif").attr("dy", -7).text("232");
    t.append("tspan").attr("dy", 7).attr("dx", 1).text(item.label);
  } else if (item.key === "zero" || item.key === "two") {
    t.attr("font-family", "DejaVu Serif").attr("font-style", "italic").attr("font-size", 15).text(item.label);
  } else {
    t.text(item.label);
  }
}
legendLeft.forEach((it, i) => legendItem(it, i, 274, 323));
legendRight.forEach((it, i) => legendItem(it, i, 432, 479));

// ---------------------------------------------------------------------------
// Annotation
// ---------------------------------------------------------------------------
const note = svg.append("text").attr("text-anchor", "middle").attr("font-family", "Liberation Serif")
  .attr("font-weight", "bold").attr("font-size", 51).attr("fill", "#17179c");
[["The slowest", 257], ["process directly", 307], ["observed!", 358]].forEach(([s, yy]) => {
  note.append("tspan").attr("x", 267).attr("y", yy).text(s);
});

// ---------------------------------------------------------------------------
// Neighbouring slide content at the right edge
// ---------------------------------------------------------------------------
const side = svg.append("g").attr("font-family", "Open Sans").attr("font-size", 21).attr("fill", "#3a3a3a");
side.append("rect").attr("x", 1181).attr("y", 0).attr("width", 30).attr("height", 3).attr("fill", "#1565c0");
side.append("rect").attr("x", 1181).attr("y", 10).attr("width", 30).attr("height", 55).attr("fill", "#1565c0");
side.append("text").attr("x", 1183).attr("y", 97).text("Th");
side.append("rect").attr("x", 1181).attr("y", 112).attr("width", 30).attr("height", 44).attr("fill", "#e8e8e8");
side.append("text").attr("x", 1183).attr("y", 143).text("U-");
side.append("text").attr("x", 1183).attr("y", 187).text("Xe");
side.append("rect").attr("x", 1181).attr("y", 201).attr("width", 30).attr("height", 2).attr("fill", "#1f5fa8");
side.append("rect").attr("x", 1181).attr("y", 204).attr("width", 30).attr("height", 44).attr("fill", "#e8e8e8");
side.append("text").attr("x", 1183).attr("y", 233).attr("font-weight", "bold").attr("fill", "#222").text("To");
side.append("text").attr("x", 1185).attr("y", 340).attr("font-weight", "bold").attr("font-size", 30).attr("fill", "#1a4f9c").text("k");
</script>
</body>
</html>
